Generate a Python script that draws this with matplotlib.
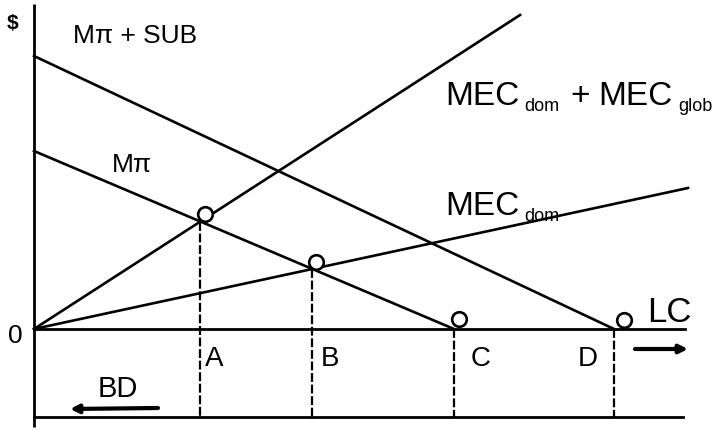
import matplotlib
matplotlib.use("Agg")
import matplotlib.pyplot as plt
import numpy as np

# ---- data (economic lines) ----
mpi_intercept, mpi_xint = 1.78, 4.20          # M-pi
sub_intercept, sub_xint = 2.73, 5.80          # M-pi + SUB
mec_total_slope, mec_total_end = 0.646, 4.86  # MEC_dom + MEC_glob
mec_dom_slope, mec_dom_end = 0.2156, 6.54     # MEC_dom
point_labels = ["A", "B", "C", "D"]

plt.rcParams['font.family'] = ['Liberation Sans', 'DejaVu Sans']

fig = plt.figure(figsize=(7.16, 4.31), dpi=100)
ax = fig.add_axes([0, 0, 1, 1])
ax.set_xlim(-0.34, 6.82)
ax.set_ylim(-1.01, 3.30)
ax.axis('off')

k = 'black'
lw = 1.9
# axes
ax.plot([0, 0], [-0.98, 3.25], color=k, lw=2.0, solid_capstyle='butt')
ax.plot([0, 6.51], [0, 0], color=k, lw=2.0)
ax.plot([0, 6.49], [-0.88, -0.88], color=k, lw=2.0)

# lines
ax.plot([0, sub_xint], [sub_intercept, 0], color=k, lw=lw)
ax.plot([0, mpi_xint], [mpi_intercept, 0], color=k, lw=lw)
ax.plot([0, mec_total_end], [0, mec_total_slope * mec_total_end], color=k, lw=lw)
ax.plot([0, mec_dom_end], [0, mec_dom_slope * mec_dom_end], color=k, lw=lw)

# intersections
mpi_slope = mpi_intercept / mpi_xint
xA = mpi_intercept / (mpi_slope + mec_total_slope)
yA = mec_total_slope * xA
xB = mpi_intercept / (mpi_slope + mec_dom_slope)
yB = mec_dom_slope * xB
pts = [(xA, yA), (xB, yB), (mpi_xint, 0.0), (sub_xint, 0.0)]

for (px, py) in pts:
    ax.plot([px, px], [py, -0.88], color=k, lw=1.6, linestyle=(0, (4, 1.2)))

offs = [(0.05, 0.08), (0.04, 0.07), (0.05, 0.10), (0.10, 0.09)]
for (px, py), (dx, dy) in zip(pts, offs):
    ax.plot(px + dx, py + dy, 'o', ms=10.5, mfc='white', mec=k, mew=1.9, zorder=5)

# point labels
lab_dx = [0.05, 0.08, 0.17, -0.36]
for (px, py), lab, dx in zip(pts, point_labels, lab_dx):
    ax.text(px + dx, -0.36, lab, fontsize=20, ha='left', va='baseline')

fs_main = 19
ax.text(-0.27, 3.01, "$", fontsize=15, fontweight='bold', ha='left', va='baseline')
ax.text(-0.26, -0.13, "0", fontsize=19, ha='left', va='baseline')
ax.text(0.39, 2.87, "Mπ + SUB", fontsize=fs_main, ha='left', va='baseline')
ax.text(0.78, 1.58, "Mπ", fontsize=fs_main, ha='left', va='baseline')

ax.text(4.11, 2.25, "MEC", fontsize=24, ha='left', va='baseline')
ax.text(4.90, 2.19, "dom", fontsize=13, ha='left', va='baseline')
ax.text(5.36, 2.25, "+", fontsize=24, ha='left', va='baseline')
ax.text(5.64, 2.25, "MEC", fontsize=24, ha='left', va='baseline')
ax.text(6.44, 2.19, "glob", fontsize=13, ha='left', va='baseline')

ax.text(4.11, 1.15, "MEC", fontsize=24, ha='left', va='baseline')
ax.text(4.90, 1.09, "dom", fontsize=13, ha='left', va='baseline')

ax.text(6.13, 0.08, "LC", fontsize=25, ha='left', va='baseline')
ax.text(0.64, -0.67, "BD", fontsize=21, ha='left', va='baseline')

ax.annotate("", xy=(6.54, -0.20), xytext=(6.01, -0.20),
            arrowprops=dict(arrowstyle='-|>', lw=3, color=k, mutation_scale=12,
                            shrinkA=0, shrinkB=0))
ax.annotate("", xy=(0.36, -0.80), xytext=(1.24, -0.79),
            arrowprops=dict(arrowstyle='-|>', lw=3, color=k, mutation_scale=12,
                            shrinkA=0, shrinkB=0))

fig.savefig("out.png", dpi=100)
